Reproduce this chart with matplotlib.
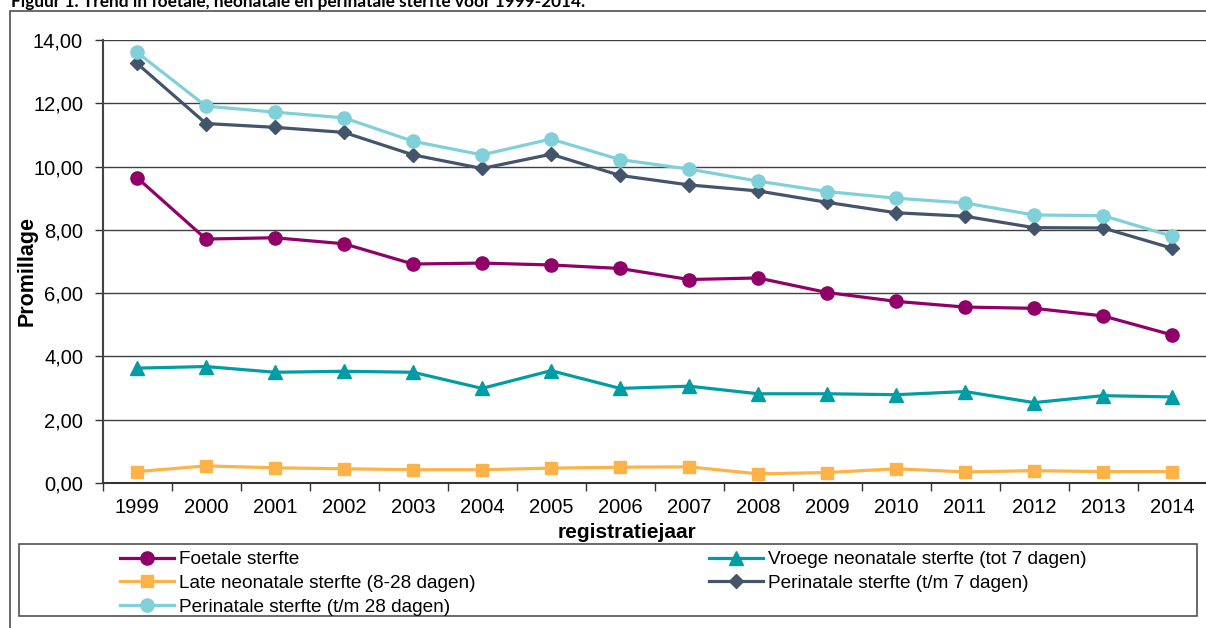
import numpy as np
import matplotlib
matplotlib.use("Agg")
import matplotlib.pyplot as plt
from matplotlib.patches import Rectangle
from matplotlib.ticker import FuncFormatter

years = [str(y) for y in range(1999, 2015)]

foetale = [9.65, 7.71, 7.75, 7.56, 6.92, 6.95, 6.89, 6.78, 6.43, 6.48, 6.02, 5.74, 5.56, 5.52, 5.28, 4.68]
vroege = [3.63, 3.68, 3.50, 3.53, 3.50, 2.99, 3.55, 2.99, 3.06, 2.82, 2.82, 2.79, 2.89, 2.54, 2.76, 2.72]
late = [0.36, 0.54, 0.48, 0.45, 0.42, 0.42, 0.47, 0.50, 0.51, 0.29, 0.33, 0.45, 0.35, 0.39, 0.36, 0.36]
peri7 = [13.26, 11.36, 11.24, 11.08, 10.37, 9.94, 10.39, 9.72, 9.42, 9.23, 8.87, 8.54, 8.43, 8.07, 8.06, 7.42]
peri28 = [13.61, 11.91, 11.72, 11.54, 10.80, 10.37, 10.87, 10.22, 9.92, 9.54, 9.21, 9.00, 8.85, 8.47, 8.45, 7.80]

labels = ["Foetale sterfte", "Vroege neonatale sterfte (tot 7 dagen)",
          "Late neonatale sterfte (8-28 dagen)", "Perinatale sterfte (t/m 7 dagen)",
          "Perinatale sterfte (t/m 28 dagen)"]

plt.rcParams['font.family'] = ['Liberation Sans', 'DejaVu Sans']

W, H = 1206, 628
fig = plt.figure(figsize=(W / 100, H / 100), dpi=100)

# axes box in pixels: left 102.5, right 1206.5, top 40, bottom 483
ax = fig.add_axes([102.5 / W, 1 - 483 / H, 1104 / W, 443 / H])

x = np.arange(len(years))
lw = 2.3
h_f, = ax.plot(x, foetale, color='#910069', lw=lw, marker='o', ms=9.5, label=labels[0], zorder=3)
h_v, = ax.plot(x, vroege, color='#009DA5', lw=lw, marker='^', ms=10, label=labels[1], zorder=3)
h_l, = ax.plot(x, late, color='#FDB347', lw=lw, marker='s', ms=9, label=labels[2], zorder=3)
h_p7, = ax.plot(x, peri7, color='#44546A', lw=lw, marker='D', ms=7.5, label=labels[3], zorder=3)
h_p28, = ax.plot(x, peri28, color='#80D0DA', lw=lw, marker='o', ms=9.5, label=labels[4], zorder=3)

ax.set_xlim(-0.5, 15.5)
ax.set_ylim(0, 14)
ax.set_yticks(np.arange(0, 15, 2))
ax.yaxis.set_major_formatter(FuncFormatter(lambda v, p: f"{v:.2f}".replace('.', ',')))
ax.set_xticks(x)
ax.set_xticklabels(years)
ax.set_xticks(np.arange(-0.5, 16, 1), minor=True)
ax.tick_params(axis='x', which='major', length=0, pad=11, labelsize=14.5)
ax.tick_params(axis='x', which='minor', length=6, width=1, direction='out', color='#333333')
ax.tick_params(axis='y', length=6, width=1, direction='out', pad=8, labelsize=14.5, color='#333333')
ax.grid(axis='y', color='#404040', lw=1)
ax.set_axisbelow(True)
for s in ['top', 'right']:
    ax.spines[s].set_visible(False)
ax.spines['left'].set_color('#444444')
ax.spines['left'].set_linewidth(1.5)
ax.spines['bottom'].set_color('#333333')
ax.spines['bottom'].set_linewidth(1.5)

fig.text(627 / W, 1 - 532 / H, "registratiejaar", ha='center', va='center',
         fontsize=15, fontweight='bold')
fig.text(27 / W, 1 - 271 / H, "Promillage", ha='center', va='center', rotation=90,
         fontsize=15.5, fontweight='bold')

# title, partly cut by the top edge
fig.text(11 / W, 1 - 7 / H, "Figuur 1. Trend in foetale, neonatale en perinatale sterfte voor 1999-2014.",
         ha='left', va='baseline', fontsize=12.4, fontweight='bold', family=['Lato', 'DejaVu Sans'])

# outer frame
fig.add_artist(Rectangle((10 / W, -0.1), 1.0, 1 - 11 / H + 0.1, transform=fig.transFigure,
                         fill=False, ec='#505050', lw=1.2))
# legend frame
fig.add_artist(Rectangle((19 / W, 1 - 616 / H), (1197 - 19) / W, 72 / H, transform=fig.transFigure,
                         fill=False, ec='#505050', lw=1.2))

fig.legend([h_f, h_l, h_p28, h_v, h_p7],
           [labels[0], labels[2], labels[4], labels[1], labels[3]],
           ncol=2, loc='upper left', bbox_to_anchor=(120 / W, 1 - 551 / H),
           frameon=False, fontsize=13.7, handlelength=2.85, handletextpad=0.25,
           borderpad=0, borderaxespad=0, labelspacing=0.33, columnspacing=12.25)

fig.savefig("out.png", dpi=100)
